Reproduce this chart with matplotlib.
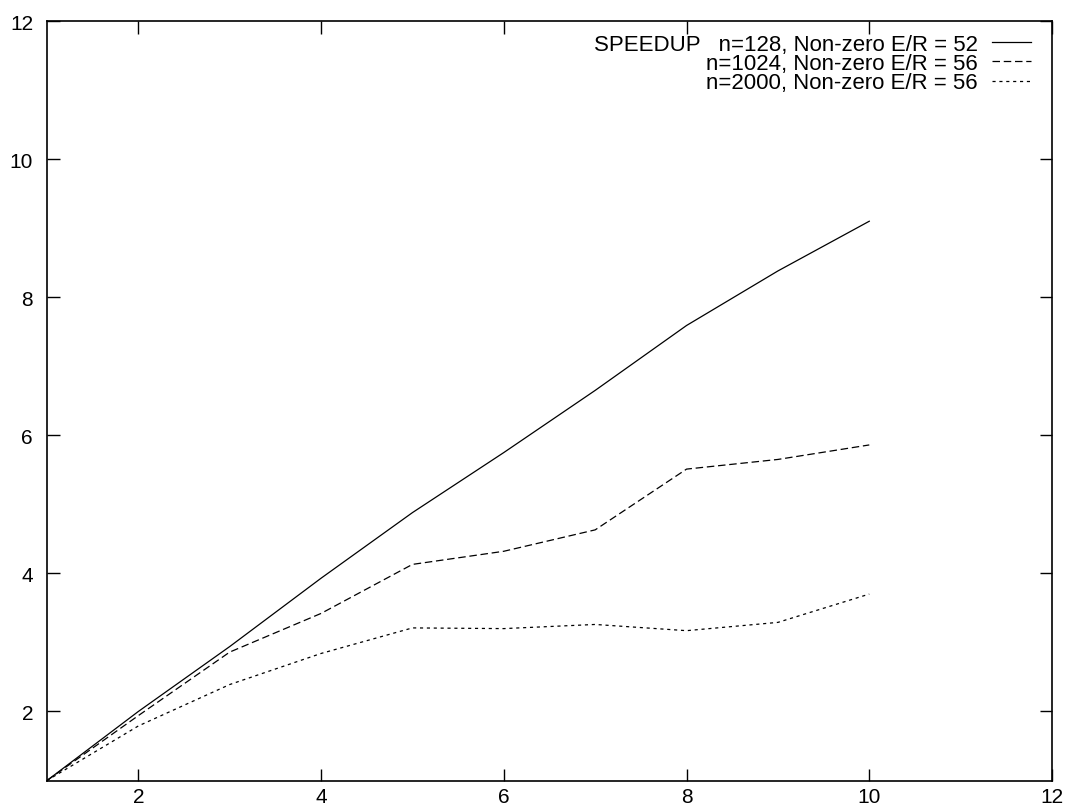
import matplotlib
matplotlib.use("Agg")
import matplotlib.pyplot as plt

plt.rcParams['font.family'] = ['Liberation Sans', 'DejaVu Sans']

# numero de procesadores
procs = [1, 2, 3, 4, 5, 6, 7, 8, 9, 10]

# speedup medido para cada tamano de matriz
speedup_128 = [1.0, 2.0, 2.94, 3.93, 4.88, 5.75, 6.65, 7.59, 8.38, 9.10]
speedup_1024 = [1.0, 1.94, 2.86, 3.42, 4.13, 4.32, 4.63, 5.51, 5.65, 5.86]
speedup_2000 = [1.0, 1.79, 2.39, 2.84, 3.21, 3.20, 3.26, 3.17, 3.29, 3.70]

labels = ["SPEEDUP   n=128, Non-zero E/R = 52",
          "n=1024, Non-zero E/R = 56",
          "n=2000, Non-zero E/R = 56"]

ticks = [2, 4, 6, 8, 10, 12]

fig = plt.figure(figsize=(10.68, 8.12), dpi=100)
ax = fig.add_axes([47/1068, 1 - 781.5/812, 1005/1068, 759.5/812])

ax.plot(procs, speedup_128, color='k', lw=0.9, label=labels[0])
ax.plot(procs, speedup_1024, color='k', lw=0.9, dashes=(6, 3), label=labels[1])
ax.plot(procs, speedup_2000, color='k', lw=0.9, dashes=(2.5, 3), label=labels[2])

ax.set_xlim(1, 12)
ax.set_ylim(1, 12)
ax.set_xticks(ticks)
ax.set_yticks(ticks)
ax.tick_params(direction='in', length=9, width=1, top=True, right=True,
               labelsize=15)
ax.tick_params(axis='x', pad=5)
ax.tick_params(axis='y', pad=10)
for s in ax.spines.values():
    s.set_linewidth(1.2)

ax.legend(loc='upper right', bbox_to_anchor=(1031/1068, 1 - 35/812),
          bbox_transform=fig.transFigure, frameon=False, markerfirst=False,
          fontsize=16, handlelength=1.75, handletextpad=0.65,
          labelspacing=-0.08, borderpad=0, borderaxespad=0)

fig.savefig("out.png", dpi=100)
